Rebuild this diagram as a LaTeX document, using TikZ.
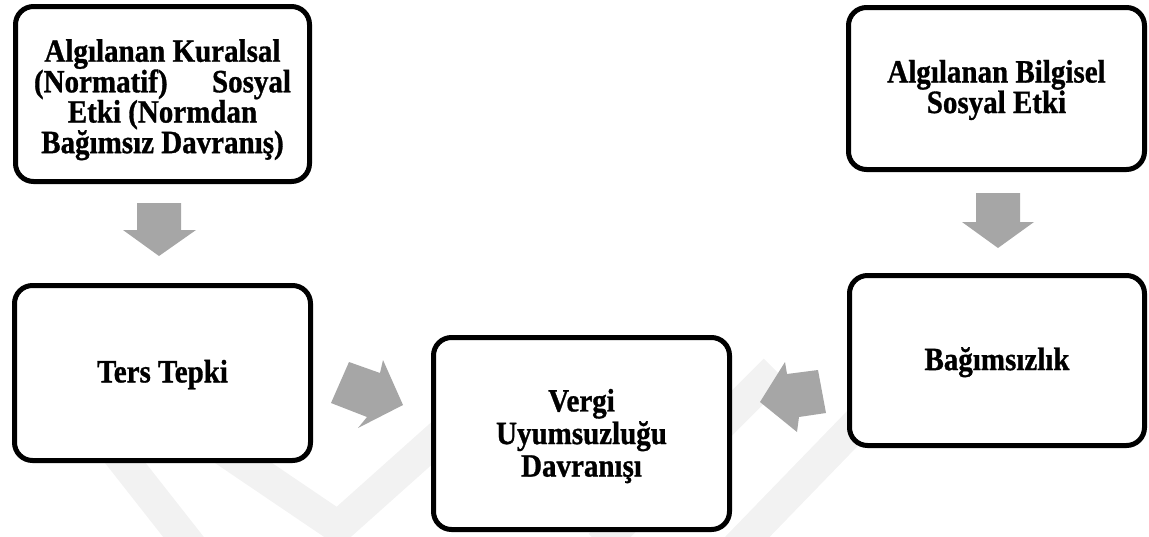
\documentclass[tikz,border=0pt]{standalone}
\usepackage{graphicx}
\usepackage{fontspec}
\setmainfont{Liberation Serif}[BoldFeatures={FakeBold=1}]
\definecolor{arrowgray}{RGB}{166,166,166}
\definecolor{wmgray}{RGB}{242,242,242}
\newcommand{\boxtext}[3]{\fontsize{29}{#1}\selectfont\raisebox{#2}[\height][\depth]{\scalebox{1}[1.12]{\begin{tabular}{@{}c@{}}#3\end{tabular}}}}
\begin{document}
\begin{tikzpicture}[x=1pt,y=-1pt,
  box/.style={draw=black, line width=5pt, rounded corners=18pt, fill=white,
    inner sep=0pt, align=center, font=\bfseries},
  blockarrow/.style={fill=arrowgray, draw=none},
  wm/.style={draw=wmgray, line width=32pt}]
\useasboundingbox (0,0) rectangle (1149,536);
% faint background watermark
\begin{scope}
  \clip (0,0) rectangle (1149,536);
  \draw[wm] (90,418) -- (200,558);
  \draw[wm, line join=miter] (180,420) -- (338,527) -- (460,418);
  \draw[wm] (600,545) -- (775,370);
  \draw[wm] (725,560) -- (880,400);
\end{scope}
% boxes
\node[box, minimum width=294pt, minimum height=175pt] (norm) at (162.5,94)
  {\boxtext{22.9}{-6pt}{Algılanan Kuralsal\\\makebox[257pt]{(Normatif)\hfill Sosyal}\\Etki (Normdan\\Bağımsız Davranış)}};
\node[box, minimum width=296pt, minimum height=162pt] (bilgi) at (996.5,88.5)
  {\boxtext{23.8}{-2pt}{Algılanan Bilgisel\\Sosyal Etki}};
\node[box, minimum width=296pt, minimum height=175pt] (ters) at (162.5,373) {\boxtext{23}{-2pt}{Ters Tepki}};
\node[box, minimum width=295pt, minimum height=170pt] (bag) at (997,360.5) {\boxtext{23}{-2pt}{Bağımsızlık}};
\node[box, minimum width=296pt, minimum height=192pt] (vergi) at (581.5,433.5)
  {\boxtext{29}{-4pt}{Vergi\\Uyumsuzluğu\\Davranışı}};
% block arrows
\fill[blockarrow] (137,203) -- (181,203) -- (181,230) -- (196,230) -- (159,256) -- (123,230) -- (137,230) -- cycle;
\fill[blockarrow] (976,193) -- (1020,193) -- (1020,222) -- (1034,222) -- (998,248) -- (962,222) -- (976,222) -- cycle;
\fill[blockarrow] (349,362) -- (380,373) -- (383,360) -- (403,405) -- (358,428) -- (367,417) -- (331,403) -- cycle;
\fill[blockarrow] (818,370) -- (787,374) -- (785,362) -- (760,402) -- (797,432) -- (799,417) -- (826,413) -- cycle;
\end{tikzpicture}
\end{document}
